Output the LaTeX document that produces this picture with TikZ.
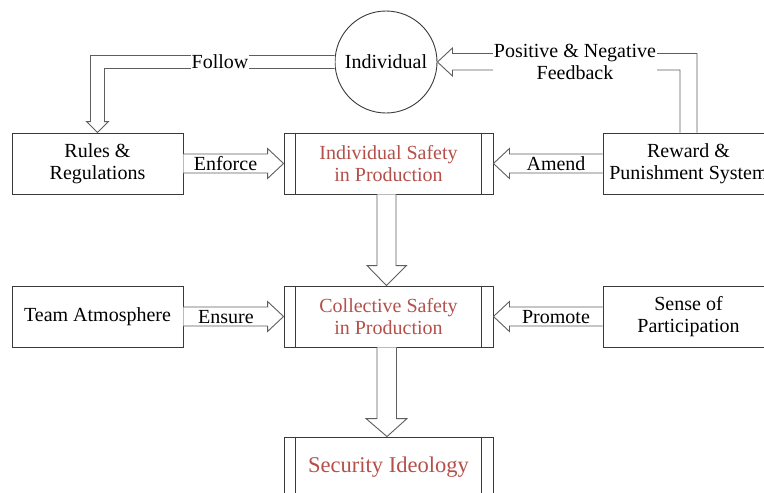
\documentclass[tikz,border=0pt]{standalone}
\usepackage{fontspec}
\setmainfont{Liberation Serif}
\usetikzlibrary{calc}
\definecolor{boxline}{HTML}{3A3A3A}
\definecolor{arrline}{HTML}{5E5E5E}
\definecolor{redtxt}{HTML}{B3504A}
\begin{document}
\begin{tikzpicture}[x=1pt,y=-1pt,
  every node/.style={font=\fontsize{20}{22}\selectfont},
  plainbox/.style={draw=boxline,line width=0.9pt,minimum width=171pt,minimum height=61pt,align=center,inner sep=0pt},
  procbox/.style={draw=boxline,line width=0.9pt,minimum width=209pt,minimum height=61pt,align=center,inner sep=0pt,text=redtxt},
  blk/.style={draw=arrline,line width=0.9pt,fill=white,line join=miter},
  lbl/.style={fill=white,inner sep=1pt,align=center}]
\useasboundingbox (0,0) rectangle (764,493);
% nodes
\node[draw=boxline,line width=0.9pt,circle,minimum size=102pt,inner sep=0pt] (ind) at (386,62) {Individual};
\node[plainbox] (rules) at (97.5,163.5) {Rules \&\\Regulations};
\node[procbox] (isp) at (388.5,163.5) {Individual Safety\\in Production};
\node[plainbox] (rps) at (688.5,163.5) {Reward \&\\Punishment System};
\node[plainbox] (team) at (97.5,316.5) {Team Atmosphere};
\node[procbox] (csp) at (388.5,316.5) {Collective Safety\\in Production};
\node[plainbox] (sop) at (688.5,316.5) {Sense of\\Participation};
\node[procbox,font=\fontsize{22.5}{24}\selectfont] (sec) at (388.5,467.5) {Security Ideology};
% inner lines of process boxes
\foreach \n in {isp,csp,sec}{
  \draw[boxline,line width=0.9pt] ($(\n.north west)+(12,0)$) -- ($(\n.south west)+(12,0)$);
  \draw[boxline,line width=0.9pt] ($(\n.north east)+(-12,0)$) -- ($(\n.south east)+(-12,0)$);
}
% Follow arrow
\draw[blk] ($(ind.west)+(0,-6.5)$) -| ($(rules.north)+(-7,-11)$) -- ++(-4,0) -- (rules.north) -- ++(11,-11) -- ++(-4,0) |- ($(ind.west)+(0,6.5)$);
% Feedback arrow
\draw[blk] ($(rps.north)+(-8.5,0)$) |- ($(ind.east)+(15,8)$) -- ++(0,6) -- (ind.east) -- ++(15,-14) -- ++(0,5.5) -| ($(rps.north)+(8.5,0)$);
% horizontal arrows
\draw[blk] ($(rules.east)+(0,-9.5)$) -- ($(isp.west)+(-16,-9.5)$) -- ++(0,-5.5) -- (isp.west) -- ($(isp.west)+(-16,15)$) -- ++(0,-5.5) -- ($(rules.east)+(0,9.5)$);
\draw[blk] ($(rps.west)+(0,-9.5)$) -- ($(isp.east)+(16,-9.5)$) -- ++(0,-5.5) -- (isp.east) -- ($(isp.east)+(16,15)$) -- ++(0,-5.5) -- ($(rps.west)+(0,9.5)$);
\draw[blk] ($(team.east)+(0,-9.5)$) -- ($(csp.west)+(-16,-9.5)$) -- ++(0,-5.5) -- (csp.west) -- ($(csp.west)+(-16,15)$) -- ++(0,-5.5) -- ($(team.east)+(0,9.5)$);
\draw[blk] ($(sop.west)+(0,-9.5)$) -- ($(csp.east)+(16,-9.5)$) -- ++(0,-5.5) -- (csp.east) -- ($(csp.east)+(16,15)$) -- ++(0,-5.5) -- ($(sop.west)+(0,9.5)$);
% vertical arrows
\draw[blk] ($(isp.south)+(-11.5,0)$) -- ($(csp.north)+(-11.5,-20)$) -- ++(-10,0) -- ($(csp.north)+(-2,0)$) -- ($(csp.north)+(18,-20)$) -- ++(-10.5,0) -- ($(isp.south)+(7.5,0)$);
\draw[blk] ($(csp.south)+(-11.5,0)$) -- ($(sec.north)+(-11.5,-18)$) -- ++(-11,0) -- ($(sec.north)+(-1.5,0)$) -- ($(sec.north)+(18.5,-18)$) -- ++(-10.5,0) -- ($(csp.south)+(8,0)$);
% labels
\node[lbl] (lfollow) at (220,62) {Follow};
\node[lbl] (lfeed) at (575,62) {Positive \& Negative\\Feedback};
\node[lbl] (lenforce) at (225.5,164) {Enforce};
\node[lbl] (lamend) at (556,164) {Amend};
\node[lbl] (lensure) at (226,317) {Ensure};
\node[lbl] (lpromote) at (556,317) {Promote};
\end{tikzpicture}
\end{document}
